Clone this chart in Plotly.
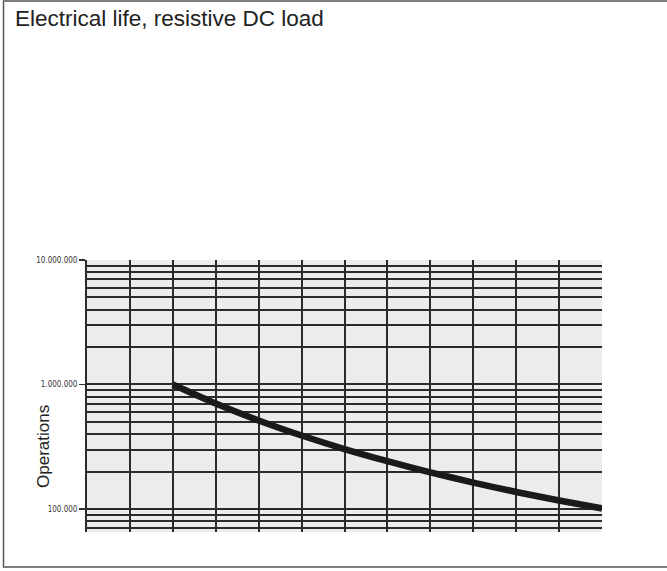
import plotly.graph_objects as go

# ---- data ----
current = [2, 3, 4, 5, 6, 7, 8, 9, 10, 11, 12]
operations = [1000000, 703000, 514000, 389000, 303000, 242000,
              197000, 163000, 137000, 117000, 101000]

y_tick_vals = [100000, 1000000, 10000000]
y_tick_text = ["100.000", "1.000.000", "10.000.000"]
x_grid_vals = [1, 2, 3, 4, 5, 6, 7, 8, 9, 10, 11]
y_minor_vals = [70000, 80000, 90000,
                200000, 300000, 400000, 500000, 600000, 700000, 800000, 900000,
                2000000, 3000000, 4000000, 5000000, 6000000, 7000000, 8000000, 9000000]

title_text = "Electrical life, resistive DC load"
y_title = "Operations"

W, H = 667, 571
L, R, T, B = 87, 602, 260, 532  # plot area in pixels


def px(x):
    return (x - L) / (R - L)


def py(y):
    return (B - y) / (B - T)


GRID = "#2b2b2b"

fig = go.Figure()
fig.add_trace(go.Scatter(
    x=current, y=operations, mode="lines",
    line=dict(color="#1a1a1a", width=6.5, shape="spline", smoothing=0.8),
    showlegend=False, hoverinfo="skip",
))

fig.update_layout(
    width=W, height=H,
    margin=dict(l=L, r=W - R, t=T, b=H - B, pad=0),
    paper_bgcolor="white",
    plot_bgcolor="#ececec",
    showlegend=False,
    xaxis=dict(
        range=[0, 12], tickmode="array", tickvals=x_grid_vals,
        showticklabels=False, ticks="", showgrid=True,
        gridcolor=GRID, gridwidth=2, zeroline=False, showline=False,
        fixedrange=True,
    ),
    yaxis=dict(
        type="log", range=[4.815, 7.0],
        tickmode="array", tickvals=y_tick_vals, ticktext=y_tick_text,
        ticks="outside", ticklen=6, tickwidth=1.3, tickcolor="#333333",
        tickfont=dict(family="Liberation Sans Narrow, DejaVu Sans Condensed, sans-serif",
                      size=8, color="#333333"),
        showgrid=True, gridcolor=GRID, gridwidth=2,
        minor=dict(tickmode="array", tickvals=y_minor_vals, showgrid=True,
                   gridcolor=GRID, gridwidth=2, ticks=""),
        showline=True, linecolor=GRID, linewidth=2, zeroline=False,
        fixedrange=True,
    ),
    annotations=[
        dict(text=title_text, xref="paper", yref="paper",
             x=px(12.5), y=py(18.5), xanchor="left", yanchor="middle",
             showarrow=False,
             font=dict(family="Liberation Sans, Arial, sans-serif", size=22.5, color="#222222")),
        dict(text=y_title, xref="paper", yref="paper",
             x=px(43), y=py(447), xanchor="center", yanchor="middle",
             textangle=-90, showarrow=False,
             font=dict(family="Liberation Sans, Arial, sans-serif", size=17, color="#222222")),
    ],
    shapes=[
        dict(type="rect", xref="paper", yref="paper", layer="below",
             x0=px(3.5), x1=px(670), y0=py(567), y1=py(1),
             line=dict(color="#555555", width=1.5), fillcolor="rgba(0,0,0,0)"),
    ],
)

fig.write_html(
    "out.html",
    config={"displayModeBar": False, "staticPlot": True},
    post_script="document.body.style.margin='0';document.body.style.padding='0';"
                "document.body.style.overflow='hidden';",
)
